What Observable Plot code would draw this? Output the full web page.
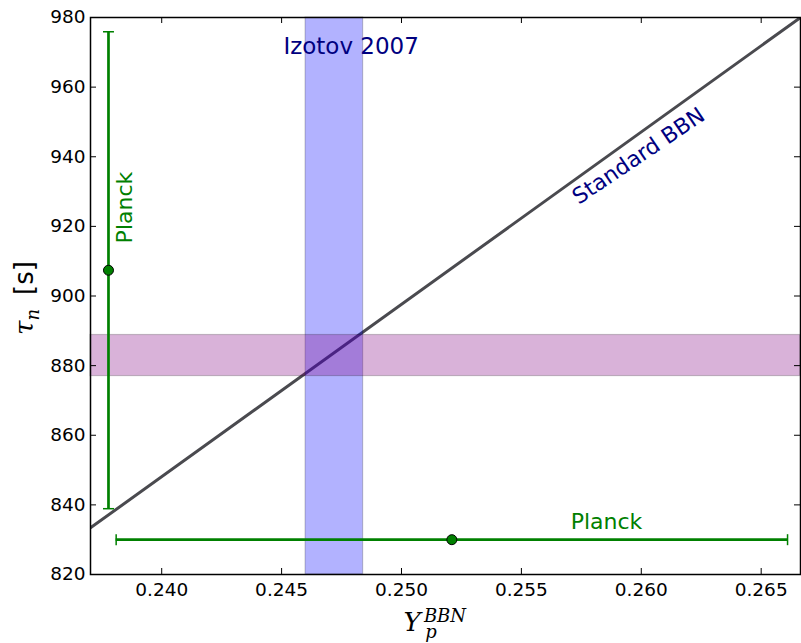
<!DOCTYPE html>
<html><head><meta charset="utf-8">
<script src="https://cdn.jsdelivr.net/npm/d3@7"></script>
<script src="https://cdn.jsdelivr.net/npm/@observablehq/plot@0.6"></script>
<style>body{margin:0;background:#fff;} svg{display:block;}</style>
</head><body><div id="chart"></div>
<script>
// ---- data ----
const xDomain = [0.23703, 0.26664];
const yDomain = [820, 980];
const xTicks = [0.240, 0.245, 0.250, 0.255, 0.260, 0.265];
const yTicks = [820, 840, 860, 880, 900, 920, 940, 960, 980];
const bbnYp = [0.23703, 0.26664];
const bbnTau = [833.4, 980.0];
const izotovYp = [0.2460, 0.2484];
const tauBand = [877.0, 888.8];
const planckTauYp = [0.23778];
const planckTau = [907.4];
const planckTauErr = [68.5];
const planckYp = [0.2521];
const planckYpTau = [830.0];
const planckYpErr = [0.0140];
const labelText = ["Izotov 2007", "Standard BBN", "Planck", "Planck"];
const labelYp = [0.2479, 0.25989, 0.23847, 0.25855];
const labelTau = [971.5, 940.2, 925.4, 835.1];

// ---- derived tables ----
const bbn = bbnYp.map((x, i) => ({x, y: bbnTau[i]}));
const vBar = planckTauYp.map((x, i) => ({x, y: planckTau[i], lo: planckTau[i] - planckTauErr[i], hi: planckTau[i] + planckTauErr[i]}));
const hBar = planckYp.map((x, i) => ({x, y: planckYpTau[i], lo: x - planckYpErr[i], hi: x + planckYpErr[i]}));
const labels = labelText.map((t, i) => ({t, x: labelYp[i], y: labelTau[i]}));

const W = 801, H = 643, mL = 90, mR = 1, mT = 17, mB = 69;
const pw = W - mL - mR, ph = H - mT - mB;
const capH = {draw(ctx) { ctx.moveTo(-5.5, 0); ctx.lineTo(5.5, 0); }};
const capV = {draw(ctx) { ctx.moveTo(0, -5.5); ctx.lineTo(0, 5.5); }};
const green = "#008000", navy = "#000080";

const chart = Plot.plot({
  width: W, height: H,
  marginLeft: mL, marginRight: mR, marginTop: mT, marginBottom: mB,
  style: {fontFamily: "DejaVu Sans", fontSize: "18.5px", color: "black", background: "white"},
  x: {domain: xDomain, ticks: xTicks, tickFormat: d3.format(".3f"), tickSize: 0, tickPadding: 8, label: null},
  y: {domain: yDomain, ticks: yTicks, tickSize: 0, tickPadding: 5, label: null},
  marks: [
    Plot.line(bbn, {x: "x", y: "y", stroke: "#4a4a4f", strokeWidth: 3, clip: true}),
    Plot.rect([{x1: izotovYp[0], x2: izotovYp[1]}], {x1: "x1", x2: "x2", fill: "blue", fillOpacity: 0.3, stroke: "black", strokeOpacity: 0.2, strokeWidth: 1.2}),
    Plot.rect([{y1: tauBand[0], y2: tauBand[1]}], {y1: "y1", y2: "y2", fill: "purple", fillOpacity: 0.3, stroke: "black", strokeOpacity: 0.2, strokeWidth: 1.2}),
    // vertical Planck error bar
    Plot.ruleX(vBar, {x: "x", y1: "lo", y2: "hi", stroke: green, strokeWidth: 2.7}),
    Plot.dot(vBar, {x: "x", y: "lo", symbol: capH, r: 5, fill: "none", stroke: green, strokeWidth: 1.5}),
    Plot.dot(vBar, {x: "x", y: "hi", symbol: capH, r: 5, fill: "none", stroke: green, strokeWidth: 1.5}),
    Plot.dot(vBar, {x: "x", y: "y", r: 5, fill: green, stroke: "black", strokeWidth: 1}),
    // horizontal Planck error bar
    Plot.ruleY(hBar, {y: "y", x1: "lo", x2: "hi", stroke: green, strokeWidth: 2.7}),
    Plot.dot(hBar, {x: "lo", y: "y", symbol: capV, r: 5, fill: "none", stroke: green, strokeWidth: 1.5}),
    Plot.dot(hBar, {x: "hi", y: "y", symbol: capV, r: 5, fill: "none", stroke: green, strokeWidth: 1.5}),
    Plot.dot(hBar, {x: "x", y: "y", r: 5, fill: green, stroke: "black", strokeWidth: 1}),
    // annotations
    Plot.text(labels.slice(0, 1), {x: "x", y: "y", text: "t", fill: navy, fontSize: 23}),
    Plot.text(labels.slice(1, 2), {x: "x", y: "y", text: "t", fill: navy, fontSize: 22, rotate: -34}),
    Plot.text(labels.slice(2, 3), {x: "x", y: "y", text: "t", fill: green, fontSize: 22, rotate: -90}),
    Plot.text(labels.slice(3, 4), {x: "x", y: "y", text: "t", fill: green, fontSize: 22}),
    // inward ticks on all four sides
    Plot.tickX(xTicks, {x: d => d, insetTop: ph - 6, stroke: "black", strokeWidth: 1}),
    Plot.tickX(xTicks, {x: d => d, insetBottom: ph - 6, stroke: "black", strokeWidth: 1}),
    Plot.tickY(yTicks, {y: d => d, insetRight: pw - 6, stroke: "black", strokeWidth: 1}),
    Plot.tickY(yTicks, {y: d => d, insetLeft: pw - 6, stroke: "black", strokeWidth: 1}),
    Plot.frame({stroke: "black", strokeWidth: 1.5})
  ]
});
document.getElementById("chart").appendChild(chart);

// axis titles with math-style sub/superscripts
const svg = d3.select(chart);
const yl = svg.append("text").attr("transform", "translate(33,298) rotate(-90)")
  .attr("text-anchor", "middle").attr("font-size", 26).attr("fill", "black");
yl.append("tspan").attr("font-family", "DejaVu Serif").attr("font-style", "italic").text("τ");
yl.append("tspan").attr("font-family", "DejaVu Serif").attr("font-style", "italic").attr("font-size", 18).attr("dy", 6).text("n");
yl.append("tspan").attr("font-family", "DejaVu Sans").attr("dy", -6).attr("dx", 14).text("[s]");

const xl = svg.append("text").attr("x", 412).attr("y", 631)
  .attr("font-family", "DejaVu Serif").attr("font-style", "italic").attr("font-size", 26).attr("fill", "black");
xl.append("tspan").text("Y");
xl.append("tspan").attr("x", 431).attr("dy", 7).attr("font-size", 18).text("p");
xl.append("tspan").attr("x", 445).attr("dy", -16).attr("font-size", 18).text("BBN");
</script>
</body></html>
